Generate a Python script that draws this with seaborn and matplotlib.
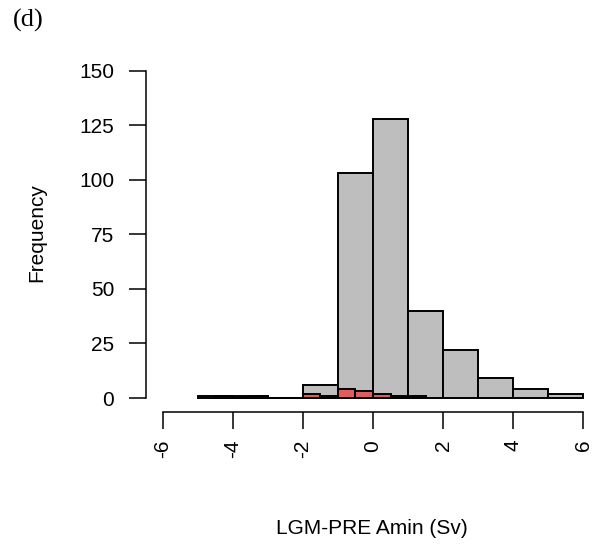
import numpy as np
import pandas as pd
import matplotlib
matplotlib.use("Agg")
import matplotlib.pyplot as plt
import seaborn as sns

# Binned counts of the LGM-PRE Amin difference (Sv)
all_edges = [-5, -4, -3, -2, -1, 0, 1, 2, 3, 4, 5, 6]
all_counts = [1, 1, 0, 6, 103, 128, 40, 22, 9, 4, 2]

sub_edges = [-4.5, -4.0, -3.5, -3.0, -2.5, -2.0, -1.5, -1.0, -0.5, 0.0, 0.5, 1.0, 1.5]
sub_counts = [1, 0, 1, 0, 0, 2, 1, 4, 3, 2, 1, 1]

x_ticks = [-6, -4, -2, 0, 2, 4, 6]
y_ticks = [0, 25, 50, 75, 100, 125, 150]

sns.set_style("white")
plt.rcParams["font.family"] = ["Liberation Sans", "DejaVu Sans"]
plt.rcParams["text.color"] = "black"

def centers(edges):
    e = np.asarray(edges, dtype=float)
    return (e[:-1] + e[1:]) / 2

all_df = pd.DataFrame({"x": centers(all_edges), "n": all_counts})
sub_df = pd.DataFrame({"x": centers(sub_edges), "n": sub_counts})

fig = plt.figure(figsize=(6.0, 5.47), dpi=100)
ax = fig.add_axes([146 / 600, (547 - 412) / 547, (600 - 146) / 600, (412 - 35) / 547])

sns.histplot(data=all_df, x="x", weights="n", bins=all_edges, ax=ax,
             facecolor="#bebebe", edgecolor="black", linewidth=1.4)
sns.histplot(data=sub_df, x="x", weights="n", bins=sub_edges, ax=ax,
             facecolor=(1, 0, 0, 0.5), edgecolor="black", linewidth=1.4)

ax.set_xlim(-6.48, 6.48)
ax.set_ylim(-6.4, 166.4)

for side in ("top", "right"):
    ax.spines[side].set_visible(False)
for side in ("left", "bottom"):
    ax.spines[side].set_color("black")
    ax.spines[side].set_linewidth(1.1)
ax.spines["left"].set_bounds(0, 150)
ax.spines["bottom"].set_bounds(-6, 6)

ax.set_xticks(x_ticks)
ax.set_xticklabels([str(v) for v in x_ticks], rotation=90)
ax.set_yticks(y_ticks)
ax.set_yticklabels([str(v) for v in y_ticks])
ax.tick_params(axis="both", which="both", direction="out", length=12, width=1.1,
               color="black", labelsize=15, labelcolor="black")
ax.tick_params(axis="y", pad=11, left=True)
ax.tick_params(axis="x", pad=8, bottom=True)

ax.set_xlabel("")
ax.set_ylabel("")
fig.text(372 / 600, 1 - 528 / 547, "LGM-PRE Amin (Sv)", ha="center", va="center",
         fontsize=15, color="black")
fig.text(37 / 600, 1 - 233 / 547, "Frequency", ha="center", va="center", rotation=90,
         fontsize=15, color="black")
fig.text(13 / 600, 1 - 9 / 547, "(d)", ha="left", va="top", fontsize=19, color="black",
         family=["Liberation Serif", "DejaVu Serif"])

fig.savefig("out.png", dpi=100, facecolor="white")
